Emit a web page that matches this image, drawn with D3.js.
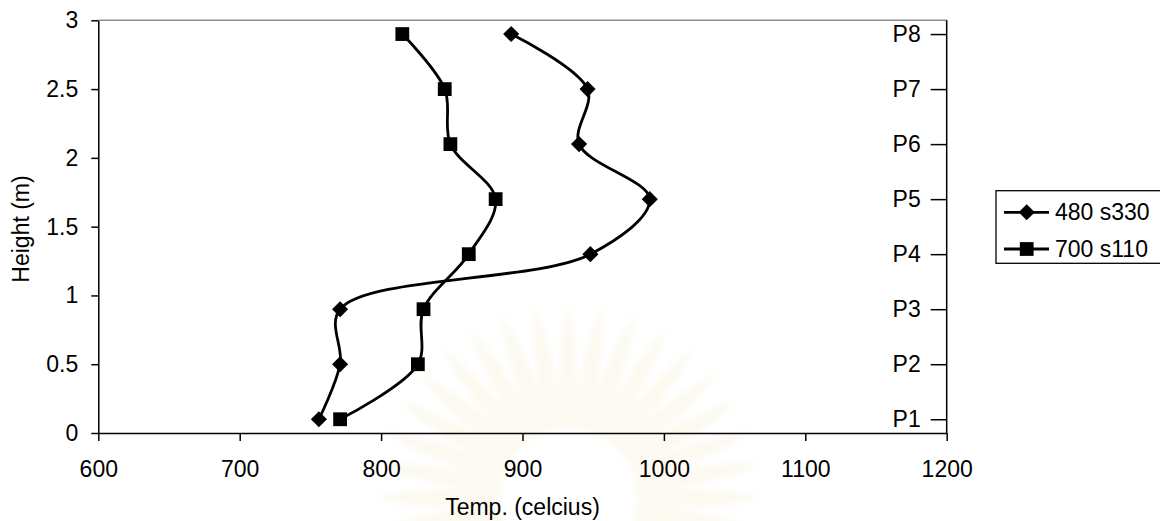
<!DOCTYPE html>
<html>
<head>
<meta charset="utf-8">
<script src="https://cdn.jsdelivr.net/npm/d3@7"></script>
<style>
  html, body { margin: 0; padding: 0; background: #ffffff; }
  svg { display: block; font-family: "Liberation Sans", Arial, sans-serif; }
</style>
</head>
<body>
<svg id="chart" width="1160" height="521"></svg>
<script>
// Measuring points up the wall and their heights (m)
const points = ["P1", "P2", "P3", "P4", "P5", "P6", "P7", "P8"];
const heights = [0.1, 0.5, 0.9, 1.3, 1.7, 2.1, 2.5, 2.9];

// Temperature at each point (celcius)
const seriesNames = ["480 s330", "700 s110"];
const temps480 = [756, 771, 771, 948, 990, 940, 946, 892];
const temps700 = [771, 826, 830, 862, 881, 849, 845, 815];

// Axis ticks
const xTicks = [600, 700, 800, 900, 1000, 1100, 1200];
const yTicks = [0, 0.5, 1, 1.5, 2, 2.5, 3];

const svg = d3.select("#chart");
const font = 23;

const plotL = 98.3, plotR = 946.7, plotT = 20.3, plotB = 433;
const x = d3.scaleLinear().domain([600, 1200]).range([plotL, plotR]);
const y = d3.scaleLinear().domain([0, 3]).range([plotB, plotT]);

// faint emblem in the page background
const defs = svg.append("defs");
defs.append("filter").attr("id", "soft")
  .append("feGaussianBlur").attr("stdDeviation", 3);
const emblem = svg.append("g")
  .attr("transform", "translate(568,498)")
  .attr("opacity", 0.12);
emblem.selectAll("path").data(d3.range(36)).join("path")
  .attr("filter", "url(#soft)")
  .attr("fill", "#e8d08a")
  .attr("transform", d => `rotate(${d * 10})`)
  .attr("d", "M-9,-70 Q-12,-150 0,-195 Q12,-150 9,-70 Z");

// plot frame: grey top edge
svg.append("line")
  .attr("x1", plotL).attr("x2", plotR).attr("y1", plotT).attr("y2", plotT)
  .attr("stroke", "#8c8c8c").attr("stroke-width", 1.5);

function styleAxis(g) {
  g.select(".domain").attr("stroke", "#000").attr("stroke-width", 1.5);
  g.selectAll(".tick line").attr("stroke", "#000").attr("stroke-width", 1.5);
  g.selectAll("text").attr("font-size", font).attr("fill", "#000")
    .attr("font-family", "'Liberation Sans', Arial, sans-serif");
}

// bottom axis
svg.append("g")
  .attr("transform", `translate(0,${plotB})`)
  .call(d3.axisBottom(x).tickValues(xTicks).tickSize(8).tickSizeOuter(0)
        .tickPadding(20).tickFormat(d3.format("d")))
  .call(styleAxis);

// left axis
svg.append("g")
  .attr("transform", `translate(${plotL},0)`)
  .call(d3.axisLeft(y).tickValues(yTicks).tickSize(7).tickSizeOuter(0)
        .tickPadding(13).tickFormat(d => String(d)))
  .call(styleAxis);

// right-hand axis naming the measuring points
svg.append("g")
  .attr("transform", `translate(${plotR},0)`)
  .call(d3.axisLeft(y).tickValues(heights).tickSize(16).tickSizeOuter(0)
        .tickPadding(10).tickFormat((d, i) => points[i]))
  .call(g => g.select(".domain").attr("d", `M0,${plotT}V${plotB}`))
  .call(styleAxis);

// axis titles
svg.append("text")
  .attr("x", (plotL + plotR) / 2).attr("y", 515)
  .attr("text-anchor", "middle").attr("font-size", font)
  .text("Temp. (celcius)");
svg.append("text")
  .attr("transform", `translate(28.5,229) rotate(-90)`)
  .attr("text-anchor", "middle").attr("font-size", font)
  .text("Height (m)");

// series
const series = [
  { name: seriesNames[0], values: temps480, shape: "diamond" },
  { name: seriesNames[1], values: temps700, shape: "square" }
];

const line = d3.line()
  .x(d => x(d.t)).y(d => y(d.h))
  .curve(d3.curveCatmullRom.alpha(0.5));

const diamond = d3.symbol().type(d3.symbolSquare).size(130);
const square = d3.symbol().type(d3.symbolSquare).size(190);
const markerPath = shape => shape === "diamond" ? diamond() : square();
const markerTurn = shape => shape === "diamond" ? " rotate(45)" : "";

series.forEach(s => {
  const pts = s.values.map((t, i) => ({ t, h: heights[i] }));
  svg.append("path")
    .datum(pts)
    .attr("fill", "none").attr("stroke", "#000").attr("stroke-width", 2.8)
    .attr("stroke-linejoin", "round")
    .attr("d", line);
  svg.append("g").selectAll("path").data(pts).join("path")
    .attr("fill", "#000")
    .attr("d", markerPath(s.shape))
    .attr("transform", d => `translate(${x(d.t)},${y(d.h)})` + markerTurn(s.shape));
});

// legend
const lg = svg.append("g");
lg.append("rect")
  .attr("x", 996).attr("y", 190.7).attr("width", 200).attr("height", 72.6)
  .attr("fill", "#fff").attr("stroke", "#000").attr("stroke-width", 1.3);
const rowsY = [212.3, 249];
series.forEach((s, i) => {
  const ry = rowsY[i];
  lg.append("line")
    .attr("x1", 1004).attr("x2", 1049).attr("y1", ry).attr("y2", ry)
    .attr("stroke", "#000").attr("stroke-width", 2.8);
  lg.append("path")
    .attr("d", markerPath(s.shape))
    .attr("transform", `translate(1026.7,${ry})` + markerTurn(s.shape))
    .attr("fill", "#000");
  lg.append("text")
    .attr("x", 1055).attr("y", ry + 8)
    .attr("font-size", font).text(s.name);
});
</script>
</body>
</html>
